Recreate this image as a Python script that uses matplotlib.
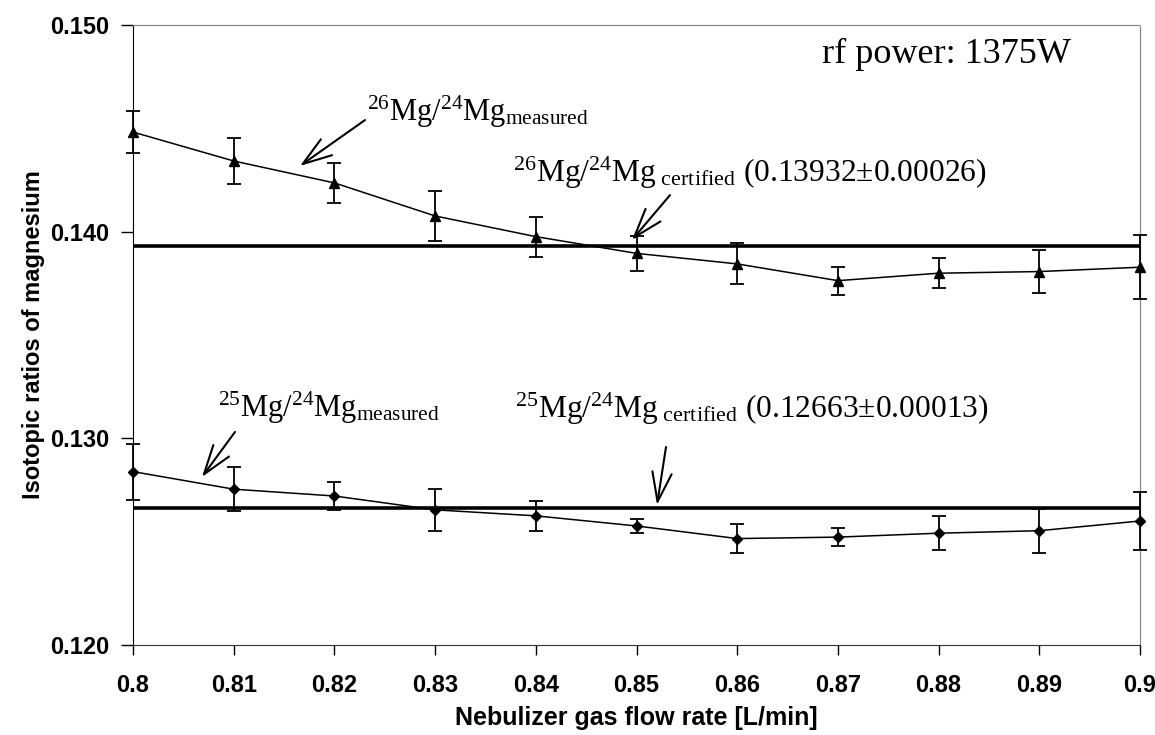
import numpy as np
import matplotlib
matplotlib.use('Agg')
import matplotlib.pyplot as plt
from matplotlib.ticker import FormatStrFormatter

plt.rcParams['font.family'] = ['Liberation Sans', 'DejaVu Sans']
plt.rcParams['mathtext.fontset'] = 'custom'
plt.rcParams['mathtext.rm'] = 'Liberation Serif'
plt.rcParams['mathtext.it'] = 'Liberation Serif:italic'
plt.rcParams['mathtext.bf'] = 'Liberation Serif:bold'

# nebulizer gas flow rate [L/min]
flow = [0.80, 0.81, 0.82, 0.83, 0.84, 0.85, 0.86, 0.87, 0.88, 0.89, 0.90]
# 26Mg/24Mg measured + error
r26 = [0.14482, 0.14342, 0.14236, 0.14076, 0.13976, 0.13895, 0.13844, 0.13763, 0.13799, 0.13807, 0.13828]
e26 = [0.00101, 0.00109, 0.00096, 0.00120, 0.00097, 0.00085, 0.00099, 0.00068, 0.00074, 0.00102, 0.00155]
# 25Mg/24Mg measured + error
r25 = [0.12839, 0.12754, 0.12721, 0.12654, 0.12625, 0.12576, 0.12515, 0.12522, 0.12541, 0.12553, 0.12600]
e25 = [0.00135, 0.00107, 0.00069, 0.00101, 0.00073, 0.00032, 0.00072, 0.00045, 0.00083, 0.00107, 0.00138]
# certified values
cert26 = 0.13932
cert25 = 0.12663
xticks = [0.80, 0.81, 0.82, 0.83, 0.84, 0.85, 0.86, 0.87, 0.88, 0.89, 0.90]
yticks = [0.120, 0.130, 0.140, 0.150]

fig = plt.figure(figsize=(11.55, 7.35), dpi=100)
ax = fig.add_axes([133/1155, 1-645/735, (1140-133)/1155, (645-25)/735])

# certified lines
ax.plot([flow[0], flow[-1]], [cert26, cert26], color='black', lw=2.6, zorder=2)
ax.plot([flow[0], flow[-1]], [cert25, cert25], color='black', lw=2.6, zorder=2)

# measured series
ax.errorbar(flow, r26, yerr=e26, color='black', lw=1.1, elinewidth=1.3,
            marker='^', ms=7, capsize=5, capthick=1.3, clip_on=False, zorder=3)
ax.errorbar(flow, r25, yerr=e25, color='black', lw=1.1, elinewidth=1.3,
            marker='D', ms=5, capsize=5, capthick=1.3, clip_on=False, zorder=3)

ax.set_xlim(0.8, 0.9)
ax.set_ylim(0.12, 0.15)
ax.set_xticks(xticks)
ax.set_xticklabels(['%g' % v for v in xticks])
ax.set_yticks(yticks)
ax.yaxis.set_major_formatter(FormatStrFormatter('%.3f'))
ax.tick_params(axis='x', direction='out', length=7, width=1, pad=14, labelsize=17)
ax.tick_params(axis='y', direction='out', length=9, width=1, pad=8, labelsize=17)
for lab in ax.get_xticklabels() + ax.get_yticklabels():
    lab.set_fontweight('bold')

for s in ['top', 'right']:
    ax.spines[s].set_linestyle((0, (1, 1)))
    ax.spines[s].set_color('#888888')
    ax.spines[s].set_linewidth(0.9)
ax.spines['left'].set_color('black')
ax.spines['bottom'].set_color('#333333')

ax.set_xlabel('Nebulizer gas flow rate [L/min]', fontsize=18, fontweight='bold', labelpad=6)
ax.set_ylabel('Isotopic ratios of magnesium', fontsize=17, fontweight='bold', labelpad=4)

serif = 'Liberation Serif'
arrow = dict(arrowstyle='->,head_length=0.75,head_width=0.25', color='black',
             lw=1.5, mutation_scale=28, shrinkA=0, shrinkB=0)

ax.text(0.86842, 0.14816, 'rf power: 1375W', family=serif, fontsize=26, va='baseline')

ax.text(0.82324, 0.14536, r'$^{26}$Mg/$^{24}$Mg$_{\mathrm{measured}}$',
        family=serif, fontsize=22, va='baseline')
ax.annotate('', xy=(0.81658, 0.14318), xytext=(0.82304, 0.14540), arrowprops=arrow)

ax.text(0.83774, 0.14240, r'$^{26}$Mg/$^{24}$Mg$_{\ \mathrm{certified}}$ (0.13932±0.00026)',
        family=serif, fontsize=22.7, va='baseline')
ax.annotate('', xy=(0.84955, 0.13960), xytext=(0.85333, 0.14177), arrowprops=arrow)

ax.text(0.80844, 0.13104, r'$^{25}$Mg/$^{24}$Mg$_{\mathrm{measured}}$',
        family=serif, fontsize=22, va='baseline')
ax.annotate('', xy=(0.80685, 0.12813), xytext=(0.81013, 0.13031), arrowprops=arrow)

ax.text(0.83793, 0.13099, r'$^{25}$Mg/$^{24}$Mg$_{\ \mathrm{certified}}$ (0.12663±0.00013)',
        family=serif, fontsize=22.7, va='baseline')
ax.annotate('', xy=(0.85204, 0.12678), xytext=(0.85293, 0.12958), arrowprops=arrow)

fig.savefig('out.png', dpi=100)
